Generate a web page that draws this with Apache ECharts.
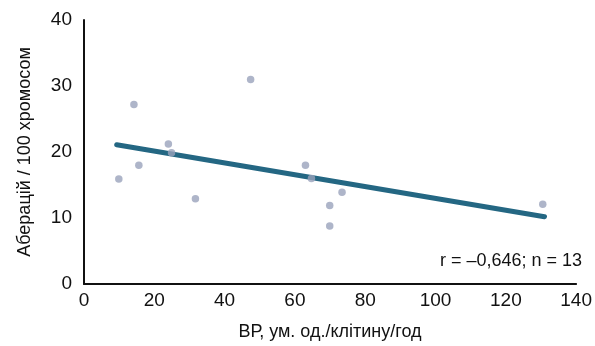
<!DOCTYPE html>
<html><head><meta charset="utf-8">
<script src="https://cdn.jsdelivr.net/npm/echarts@6/dist/echarts.min.js"></script>
<style>html,body{margin:0;padding:0;background:#fff}#c{width:595px;height:346px}</style>
</head><body><div id="c"></div>
<script>
const pointsX = [9.9, 14.2, 15.6, 24.0, 24.9, 31.7, 47.4, 63.0, 64.7, 73.4, 69.9, 69.9, 130.5];
const pointsY = [15.9, 27.2, 18.0, 21.2, 19.9, 12.9, 31.0, 18.0, 16.0, 13.9, 11.9, 8.8, 12.1];
const trendX = [9.3, 131];
const trendY = [21.1, 10.2];
const xTicks = [0, 20, 40, 60, 80, 100, 120, 140];
const yTicks = [0, 10, 20, 30, 40];
const annotation = 'r = \u20130,646; n = 13';
const FONT = '"Liberation Sans", Arial, sans-serif';

const chart = echarts.init(document.getElementById('c'), null, {renderer: 'canvas'});
chart.setOption({
  animation: false,
  backgroundColor: '#fff',
  grid: {left: 84, right: 18, top: 20, bottom: 61},
  xAxis: {
    type: 'value', min: 0, max: 140, interval: 20,
    name: 'ВР, ум. од./клітину/год', nameLocation: 'middle', nameGap: 39,
    nameTextStyle: {fontFamily: FONT, fontSize: 18, color: '#111'},
    axisLine: {show: true, lineStyle: {color: '#111', width: 2}},
    axisTick: {show: false}, splitLine: {show: false},
    axisLabel: {fontFamily: FONT, fontSize: 19, color: '#111', margin: 7,
      formatter: v => xTicks.includes(v) ? String(v) : ''}
  },
  yAxis: {
    type: 'value', min: 0, max: 40, interval: 10,
    name: 'Аберацій / 100 хромосом', nameLocation: 'middle', nameGap: 50,
    nameTextStyle: {fontFamily: FONT, fontSize: 18, color: '#111'},
    axisLine: {show: true, lineStyle: {color: '#111', width: 2}},
    axisTick: {show: false}, splitLine: {show: false},
    axisLabel: {fontFamily: FONT, fontSize: 19, color: '#111', margin: 12,
      formatter: v => yTicks.includes(v) ? String(v) : ''}
  },
  series: [
    {
      type: 'line', symbol: 'none',
      lineStyle: {color: '#246783', width: 5, cap: 'round'},
      data: trendX.map((x, i) => [x, trendY[i]]), z: 2
    },
    {
      type: 'scatter', symbolSize: 7.5,
      itemStyle: {color: '#9aa3bb'},
      data: pointsX.map((x, i) => [x, pointsY[i]]), z: 4
    }
  ],
  graphic: [{
    type: 'text', right: 13, top: 252,
    style: {text: annotation, font: '18px ' + FONT, fill: '#111'}
  }]
});
</script></body></html>
